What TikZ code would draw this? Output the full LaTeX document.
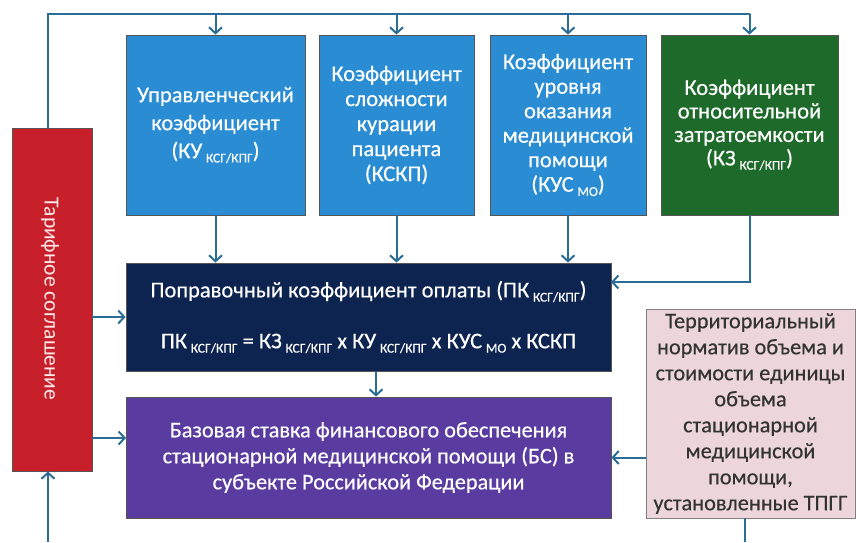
\documentclass[tikz,border=0pt]{standalone}
\usepackage{fontspec}
\setmainfont{Carlito}[FakeBold=0.4]
\newfontfamily\thinfont{Carlito}
\usetikzlibrary{arrows.meta,calc}
\definecolor{cblue}{HTML}{2A8DD4}
\definecolor{cgreen}{HTML}{1E6A2A}
\definecolor{cred}{HTML}{C8202A}
\definecolor{cnavy}{HTML}{0E2450}
\definecolor{cpurple}{HTML}{5A3CA0}
\definecolor{cpink}{HTML}{ECD6DC}
\definecolor{cline}{HTML}{2A6E98}
\definecolor{cedge}{HTML}{555555}
\newcommand\ksub[1]{\raisebox{-0.4ex}{\fontsize{13.5}{13.5}\selectfont #1}}
\tikzset{
  box/.style={draw=cedge, line width=0.8pt, text=white, align=center, inner sep=0pt,
    font=\fontsize{22.5}{25}\selectfont},
  ln/.style={draw=cline, line width=2pt},
  arr/.style={ln, -{Straight Barb[length=6pt,width=13pt,line width=2pt]}},
}
\begin{document}
\begin{tikzpicture}[x=1pt,y=-1pt]
\useasboundingbox (0,0) rectangle (856,542);
% top row
\node[box, fill=cblue, minimum width=179pt, minimum height=180pt, font=\fontsize{22.5}{28}\selectfont] (b1) at (215.5,125)
  {Управленческий\\коэффициент\\(КУ\,\ksub{КСГ/КПГ})};
\node[box, fill=cblue, minimum width=155pt, minimum height=180pt] (b2) at (396.5,125)
  {Коэффициент\\сложности\\курации\\пациента\\(КСКП)};
\node[box, fill=cblue, minimum width=156pt, minimum height=180pt, font=\fontsize{22.5}{24.5}\selectfont] (b3) at (568,125)
  {Коэффициент\\уровня\\оказания\\медицинской\\помощи\\(КУС\,\ksub{МО})};
\node[box, fill=cgreen, minimum width=177pt, minimum height=180pt, font=\fontsize{22.5}{23.5}\selectfont] (b4) at (749.5,125)
  {Коэффициент\\относительной\\затратоемкости\\(КЗ\,\ksub{КСГ/КПГ})};
% red
\node[box, fill=cred, minimum width=80pt, minimum height=343pt] (red) at (52,299.5) {};
\node[text=white!92!red, rotate=-90, font=\thinfont\fontsize{21.5}{25}\selectfont] at (50,299) {Тарифное соглашение};
% navy
\node[box, fill=cnavy, minimum width=485pt, minimum height=108pt, font=\fontsize{22.5}{51}\selectfont] (pk) at (368.5,317)
  {Поправочный коэффициент оплаты (ПК\,\ksub{КСГ/КПГ})\\
   ПК\,\ksub{КСГ/КПГ} = КЗ\,\ksub{КСГ/КПГ} x КУ\,\ksub{КСГ/КПГ} x КУС\,\ksub{МО} x КСКП};
% purple
\node[box, fill=cpurple, minimum width=485pt, minimum height=121pt, font=\fontsize{22.3}{26}\selectfont] (bs) at (368.5,457.5)
  {Базовая ставка финансового обеспечения\\стационарной медицинской помощи (БС) в\\субъекте Российской Федерации};
% pink
\node[box, fill=cpink, draw=gray, text=black!80, minimum width=209pt, minimum height=209pt, font=\fontsize{22.3}{26}\selectfont] (tn) at (750.5,413.5)
  {Территориальный\\норматив объема и\\стоимости единицы\\объема\\стационарной\\медицинской\\помощи,\\установленные ТПГГ};
% coordinates
\coordinate (tl) at (48,14);
\coordinate (gk) at (611,282);
\coordinate (rb) at (126,438);
\coordinate (mid) at (376,0);
\coordinate (pb) at (745,542);
\coordinate (bot) at (48,542);
% connectors
\draw[ln] (red.north -| tl) -- (tl) -- (tl -| b4.north);
\draw[arr] (tl -| b1.north) -- (b1.north);
\draw[arr] (tl -| b2.north) -- (b2.north);
\draw[arr] (tl -| b3.north) -- (b3.north);
\draw[arr] (tl -| b4.north) -- (b4.north);
\draw[arr] (b1.south) -- (b1.south |- pk.north);
\draw[arr] (b2.south) -- (b2.south |- pk.north);
\draw[arr] (b3.south) -- (b3.south |- pk.north);
\draw[arr] (b4.south) |- (gk);
\draw[arr] (pk.south -| mid) -- (bs.north -| mid);
\draw[arr] (red.east |- pk.west) -- (pk.west);
\draw[arr] (red.east |- rb) -- (rb);
\draw[arr] (tn.west |- bs.east) -- (bs.east);
\draw[ln] (tn.south -| pb) -- (pb);
\draw[arr] (bot) -- (red.south -| bot);
\end{tikzpicture}
\end{document}
